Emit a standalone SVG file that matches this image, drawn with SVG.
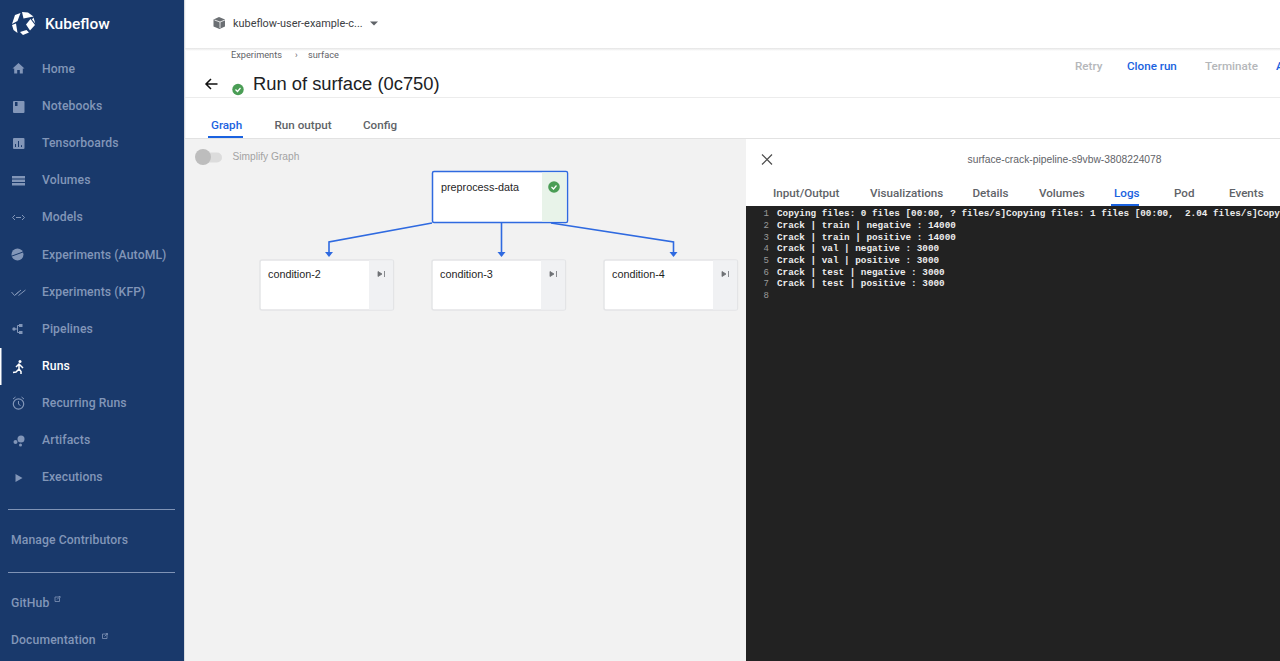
<svg xmlns="http://www.w3.org/2000/svg" width="1280" height="661" viewBox="0 0 1280 661">
<style>
.nav{font:500 12.2px Roboto,"Noto Sans",sans-serif;fill:#8296b8;letter-spacing:.1px}
.ic{fill:#8296b8}
.tab{font:500 11.65px Roboto,"Liberation Sans",sans-serif;fill:#5f6368}
.blue{fill:#1a62e0}
.nodet{font:10.8px "Liberation Sans",Arial,sans-serif;fill:#1f1f1f}
.log{font:bold 9.32px "Liberation Mono","Courier New",monospace;fill:#ededed;white-space:pre}
.ln{font:9px "Liberation Mono",monospace;fill:#9a9a9a;text-anchor:end}
.card{fill:#fff;stroke:#e3e4e6;stroke-width:1.4}
.edge{fill:none;stroke:#2f6ae0;stroke-width:1.6}
.head{fill:#2f6ae0}
.ext{fill:none;stroke:#8296b8;stroke-width:.8}
</style>
<defs>
<linearGradient id="sh" x1="0" y1="0" x2="0" y2="1"><stop offset="0" stop-color="#e4e4e4"/><stop offset="1" stop-color="#fff"/></linearGradient>
</defs>
<rect width="1280" height="661" fill="#fff"/>
<g id="sidebar">
<rect width="184" height="661" fill="#19396b"/>
<rect x="184" width="1.2" height="661" fill="#d7dade"/>
<g id="logo" fill="#fff">
<path d="M15 15L20.500 13L17.500 21L12 24ZM22 12L28 12.500L33.500 16.500L23.500 18.500ZM12 25L16 23.500L17.500 33L13.500 30ZM20 32L26.500 30L29 32.500L23 35ZM26 24.500L30.500 19L35 25L30 30.500ZM33.500 17.500L35.300 23.500L32 19.500Z"/>
</g>
<text x="45" y="29" font-family="Roboto,sans-serif" font-weight="500" font-size="15.500" fill="#fff">Kubeflow</text>
<g id="nav-home"><path class="ic" d="M18.500 63l6 5.500h-1.700v5h-3v-3.500h-2.600v3.500h-3v-5h-1.700z"/><text class="nav" x="42" y="73">Home</text></g>
<g id="nav-notebooks"><path class="ic" d="M14 101h9.500a1 1 0 011 1v10a1 1 0 01-1 1H14a1 1 0 01-1-1v-10a1 1 0 011-1z"/><rect x="15" y="102" width="2.500" height="4" fill="#19396b"/><text class="nav" x="42" y="110">Notebooks</text></g>
<g id="nav-tensorboards"><rect class="ic" x="13" y="138" width="11.500" height="11" rx="1"/><path d="M15.500 147v-3M18.500 147v-6M21.500 147v-1.800" stroke="#19396b" fill="none"/><text class="nav" x="42" y="147">Tensorboards</text></g>
<g id="nav-volumes"><path class="ic" d="M12 176h13v2.500H12zM12 179.500h13v2.500H12zM12 183h13v2.500H12z"/><text class="nav" x="42" y="184">Volumes</text></g>
<g id="nav-models"><path d="M15 215l-2.500 2.500 2.500 2.500M22 215l2.500 2.500-2.500 2.500M16 217.500h5" stroke="#8296b8" fill="none"/><text class="nav" x="42" y="221">Models</text></g>
<g id="nav-automl"><circle class="ic" cx="17.500" cy="254.500" r="6"/><path d="M12 256l11-4" stroke="#19396b"/><text class="nav" x="42" y="259">Experiments (AutoML)</text></g>
<g id="nav-kfp"><path d="M11.500 292l3 3.500 4-3.500M15 295l6-5M18.500 295.500l7-5.500" stroke="#8296b8" fill="none"/><text class="nav" x="42" y="296">Experiments (KFP)</text></g>
<g id="nav-pipelines"><circle class="ic" cx="14" cy="329" r="1.700"/><rect class="ic" x="19" y="324" width="3.500" height="3"/><rect class="ic" x="19" y="331" width="3.500" height="3"/><path d="M15 329h2.500M17.500 325.500v7M17.500 325.500h2M17.500 332.500h2" stroke="#8296b8" fill="none"/><text class="nav" x="42" y="333">Pipelines</text></g>
<g id="nav-runs"><rect x="0" y="348" width="1.500" height="37" fill="#fff"/><circle cx="20" cy="361.500" r="1.500" fill="#fff"/><path d="M16 367l3-3 2 2 2 2M19 364l0 5-3 3-3 .5M19 369l2 2.500v2.500" stroke="#fff" stroke-width="1.500" fill="none"/><text class="nav" x="42" y="370" style="fill:#fff">Runs</text></g>
<g id="nav-recurring"><circle cx="18.500" cy="404" r="5.200" fill="none" stroke="#8296b8" stroke-width="1.200"/><path d="M18.500 401v3.200l2 1.300M13 399l2.500-2M24 399l-2.500-2" stroke="#8296b8" fill="none"/><text class="nav" x="42" y="407">Recurring Runs</text></g>
<g id="nav-artifacts"><circle class="ic" cx="21" cy="439" r="3.500"/><circle class="ic" cx="15.500" cy="442" r="2"/><circle class="ic" cx="20.500" cy="445" r="1.500"/><text class="nav" x="42" y="444">Artifacts</text></g>
<g id="nav-executions"><path class="ic" d="M15.500 474v8l7-4z"/><text class="nav" x="42" y="481">Executions</text></g>
<rect x="8" y="509" width="167" height="1" fill="#7f93b5"/>
<text class="nav" x="11" y="544" id="nav-contrib">Manage Contributors</text>
<rect x="8" y="572" width="167" height="1" fill="#7f93b5"/>
<g id="nav-github"><text class="nav" x="11" y="607">GitHub</text><path class="ext" d="M59.500 598v3.500H55V597h3.500M57 599.500l3-3M58.500 596.500h1.500v1.500"/></g>
<g id="nav-doc"><text class="nav" x="11" y="644">Documentation</text><path class="ext" d="M107 635v3.500h-4.500V634h3.500M104.500 636.500l3-3M106 633.500h1.500v1.500"/></g>
</g>
<g id="topbar">
<rect x="185" y="48" width="1095" height="3" fill="url(#sh)"/>
<path d="M219 17l6 2.500v7l-5.500 2.500-6-2.500v-7z" fill="#6b6f73"/><path d="M214.500 20l5.500 2 5-2M220 22v6" stroke="#fff" stroke-width=".8" fill="none"/>
<text x="233" y="27" font-family="Roboto,sans-serif" font-size="10.900" fill="#3c4043">kubeflow-user-example-c...</text>
<path d="M370 21.500h8l-4 4z" fill="#5f6368"/>
<text x="231" y="58" font-family="Roboto,sans-serif" font-size="9.200" fill="#5f6368">Experiments</text>
<text x="295" y="58" font-family="Roboto,sans-serif" font-size="9" fill="#5f6368">›</text>
<text x="308" y="58" font-family="Roboto,sans-serif" font-size="9.200" fill="#5f6368">surface</text>
<path d="M217.500 84h-11M211 79l-5 5 5 5" stroke="#111" stroke-width="1.500" fill="none"/>
<circle cx="238" cy="89.500" r="5.700" fill="#4a9d55"/><path d="M235.500 89.500l2 2 3-3.500" stroke="#fff" stroke-width="1.200" fill="none"/>
<text x="253" y="90" font-family="'Liberation Sans',Arial,sans-serif" font-size="18.350" fill="#202124">Run of surface (0c750)</text>
<text x="1075" y="70" class="tab" style="fill:#b5b7ba">Retry</text>
<text x="1127" y="70" class="tab blue">Clone run</text>
<text x="1205" y="70" class="tab" style="fill:#b5b7ba">Terminate</text>
<text x="1276" y="70" class="tab blue">A</text>
<rect x="185" y="97" width="1095" height="1" fill="#ececec"/>
<text x="211" y="129" class="tab blue">Graph</text>
<rect x="208" y="136" width="35" height="2" fill="#1a62e0"/>
<text x="274.500" y="129" class="tab">Run output</text>
<text x="363" y="129" class="tab">Config</text>
<rect x="185" y="138" width="1095" height="1" fill="#e2e2e2"/>
</g>
<g id="canvas">
<rect x="185" y="139" width="561" height="522" fill="#f2f2f2"/>
<rect x="198" y="152.500" width="24" height="10" rx="5" fill="#dcdcdc"/>
<circle cx="203" cy="157" r="8" fill="#bdbdbd"/>
<text x="232.500" y="160" font-family="'Liberation Sans',Arial,sans-serif" font-size="10.200" fill="#a3a3a3">Simplify Graph</text>
</g>
<g id="connectors">
<path class="edge" d="M432 223L329 242V252"/><path class="head" d="M325 252h8l-4 5z"/>
<path class="edge" d="M501.500 223V252"/><path class="head" d="M497.500 252h8l-4 5z"/>
<path class="edge" d="M551 223L673.500 242V252"/><path class="head" d="M669.500 252h8l-4 5z"/>
</g>
<g id="node-preprocess-data">
<rect x="432.500" y="171.500" width="135" height="51" rx="1.500" fill="#fff" stroke="#2f6ae0" stroke-width="1.500"/>
<rect x="542" y="172.500" width="24.500" height="49" fill="#e8f3e9"/>
<circle cx="554" cy="187" r="5.800" fill="#4a9d55"/><path d="M551.500 187l2 2 3-3.500" stroke="#fff" stroke-width="1.200" fill="none"/>
<text class="nodet" x="441" y="190.500">preprocess-data</text>
</g>
<g id="node-condition-2">
<rect class="card" x="260" y="260" width="133.500" height="50" rx="2"/>
<rect x="369" y="260.500" width="24" height="49" fill="#f0f1f3"/>
<path d="M378 271.500v5l4-2.500zM384.500 271v6" fill="#6e7175" stroke="#6e7175" stroke-width=".8"/>
<text class="nodet" x="268" y="278">condition-2</text>
</g>
<g id="node-condition-3">
<rect class="card" x="432" y="260" width="133.500" height="50" rx="2"/>
<rect x="541" y="260.500" width="24" height="49" fill="#f0f1f3"/>
<path d="M550 271.500v5l4-2.500zM556.500 271v6" fill="#6e7175" stroke="#6e7175" stroke-width=".8"/>
<text class="nodet" x="440" y="278">condition-3</text>
</g>
<g id="node-condition-4">
<rect class="card" x="604" y="260" width="133.500" height="50" rx="2"/>
<rect x="713" y="260.500" width="24" height="49" fill="#f0f1f3"/>
<path d="M722 271.500v5l4-2.500zM728.500 271v6" fill="#6e7175" stroke="#6e7175" stroke-width=".8"/>
<text class="nodet" x="612" y="278">condition-4</text>
</g>
<g id="panel">
<rect x="746" y="139" width="534" height="67" fill="#fff"/>
<path d="M762 154.500l10 10M772 154.500l-10 10" stroke="#4b4b4b" stroke-width="1.200"/>
<text x="967.500" y="162.500" font-family="'Liberation Sans',Arial,sans-serif" font-size="10.300" fill="#5f6368">surface-crack-pipeline-s9vbw-3808224078</text>
<text x="773" y="197" class="tab">Input/Output</text>
<text x="870" y="197" class="tab">Visualizations</text>
<text x="972.500" y="197" class="tab">Details</text>
<text x="1039" y="197" class="tab">Volumes</text>
<text x="1114" y="197" class="tab blue">Logs</text>
<rect x="1111" y="204" width="28" height="2" fill="#1a62e0"/>
<text x="1174" y="197" class="tab">Pod</text>
<text x="1229" y="197" class="tab">Events</text>
<rect x="746" y="206" width="534" height="455" fill="#222"/>
<g id="logs">
<text class="ln" x="769" y="216">1</text><text class="log" x="777" y="216">Copying files: 0 files [00:00, ? files/s]Copying files: 1 files [00:00,  2.04 files/s]Copy</text>
<text class="ln" x="769" y="228">2</text><text class="log" x="777" y="228">Crack | train | negative : 14000</text>
<text class="ln" x="769" y="240">3</text><text class="log" x="777" y="240">Crack | train | positive : 14000</text>
<text class="ln" x="769" y="251">4</text><text class="log" x="777" y="251">Crack | val | negative : 3000</text>
<text class="ln" x="769" y="263">5</text><text class="log" x="777" y="263">Crack | val | positive : 3000</text>
<text class="ln" x="769" y="275">6</text><text class="log" x="777" y="275">Crack | test | negative : 3000</text>
<text class="ln" x="769" y="286">7</text><text class="log" x="777" y="286">Crack | test | positive : 3000</text>
<text class="ln" x="769" y="297.500">8</text>
</g>
</g>
</svg>
